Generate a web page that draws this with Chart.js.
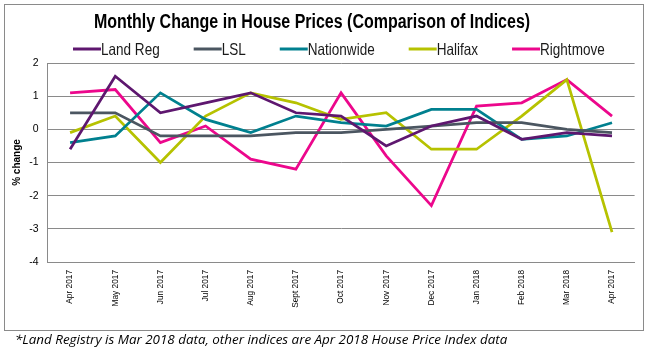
<!DOCTYPE html>
<html>
<head>
<meta charset="utf-8">
<title>Monthly Change in House Prices</title>
<script src="https://cdn.jsdelivr.net/npm/chart.js@4.4.1/dist/chart.umd.min.js"></script>
<style>
  html, body { margin: 0; padding: 0; background: #fff; }
  body { width: 650px; height: 352px; position: relative; overflow: hidden; }
  #chart { position: absolute; left: 0; top: 0; }
  #box { position: absolute; left: 4px; top: 4px; width: 640px; height: 327px;
         box-sizing: border-box; border: 1px solid #8a8a8a; pointer-events: none; }
  #note { position: absolute; left: 15px; top: 331px; font: italic 13.4px "Open Sans", sans-serif;
          color: #000; white-space: nowrap; line-height: 16px; }
</style>
</head>
<body>
<canvas id="chart" width="650" height="352"></canvas>
<div id="box"></div>
<div id="note">*Land Registry is Mar 2018 data, other indices are Apr 2018 House Price Index data</div>
<script>
/* Monthly % change, five UK house price indices */
var MONTHS = ['Apr 2017', 'May 2017', 'Jun 2017', 'Jul 2017', 'Aug 2017', 'Sept 2017', 'Oct 2017',
  'Nov 2017', 'Dec 2017', 'Jan 2018', 'Feb 2018', 'Mar 2018', 'Apr 2017'];
var LAND_REG   = [-0.6, 1.6, 0.5, 0.8, 1.1, 0.5, 0.4, -0.5, 0.1, 0.4, -0.3, -0.1, -0.2];
var LSL        = [0.5, 0.5, -0.2, -0.2, -0.2, -0.1, -0.1, 0.0, 0.1, 0.2, 0.2, 0.0, -0.1];
var NATIONWIDE = [-0.4, -0.2, 1.1, 0.3, -0.1, 0.4, 0.2, 0.1, 0.6, 0.6, -0.3, -0.2, 0.2];
var HALIFAX    = [-0.1, 0.4, -1.0, 0.4, 1.1, 0.8, 0.3, 0.5, -0.6, -0.6, 0.4, 1.5, -3.1];
var RIGHTMOVE  = [1.1, 1.2, -0.4, 0.1, -0.9, -1.2, 1.1, -0.8, -2.3, 0.7, 0.8, 1.5, 0.4];
var Y_MIN = -4, Y_MAX = 2;
var TITLE = 'Monthly Change in House Prices (Comparison of Indices)';

var SANS = '"Liberation Sans", Arial, sans-serif';
var SQUEEZE = 0.82; // no narrow face installed: squeeze title/legend text horizontally instead

function series(label, data, color) {
  return { label: label, data: data, borderColor: color, backgroundColor: color,
    borderWidth: 2.75, pointRadius: 0, pointHoverRadius: 0, tension: 0, fill: false };
}

function narrowText(ctx, text, x, y) {
  ctx.save();
  ctx.translate(x, y);
  ctx.scale(SQUEEZE, 1);
  ctx.fillText(text, 0, 0);
  ctx.restore();
  return ctx.measureText(text).width * SQUEEZE;
}

/* title + legend are placed where the original sits (off-centre), so draw them here */
var header = {
  id: 'header',
  afterDraw: function (chart) {
    var ctx = chart.ctx;
    ctx.save();
    ctx.fillStyle = '#000';
    ctx.textBaseline = 'middle';
    ctx.textAlign = 'center';
    ctx.font = 'bold 19.5px ' + SANS;
    narrowText(ctx, TITLE, 312, 23);
    ctx.textAlign = 'left';
    ctx.font = '16.5px ' + SANS;
    var x = 73, y = 49;
    chart.data.datasets.forEach(function (ds) {
      ctx.strokeStyle = ds.borderColor;
      ctx.lineWidth = 3;
      ctx.beginPath(); ctx.moveTo(x, y); ctx.lineTo(x + 28, y); ctx.stroke();
      ctx.fillStyle = '#1a1a1a';
      var w = narrowText(ctx, ds.label, x + 28, y + 1);
      x += 28 + w + 34;
    });
    ctx.restore();
  }
};

new Chart(document.getElementById('chart'), {
  type: 'line',
  data: {
    labels: MONTHS,
    datasets: [
      series('Land Reg', LAND_REG, '#5e176f'),
      series('LSL', LSL, '#4b5661'),
      series('Nationwide', NATIONWIDE, '#00808f'),
      series('Halifax', HALIFAX, '#b6c200'),
      series('Rightmove', RIGHTMOVE, '#ec078c')
    ]
  },
  options: {
    responsive: false, animation: false, devicePixelRatio: 1,
    layout: { padding: { left: 0, right: 15.4, top: 63, bottom: 0 } },
    plugins: { legend: { display: false }, title: { display: false }, tooltip: { enabled: false } },
    scales: {
      x: {
        offset: true,
        grid: { display: false, drawTicks: false },
        border: { display: true, color: '#8a8a8a', width: 1 },
        ticks: { minRotation: 90, maxRotation: 90, autoSkip: false, padding: 8, color: '#000',
          font: { family: SANS, size: 8.3 } },
        afterFit: function (s) { s.height = 90; }
      },
      y: {
        min: Y_MIN, max: Y_MAX,
        grid: { color: '#8a8a8a', lineWidth: 1, drawTicks: false },
        border: { display: true, color: '#8a8a8a', width: 1 },
        ticks: { stepSize: 1, padding: 9, color: '#000', font: { family: SANS, size: 10.5 } },
        title: { display: true, text: '% change', color: '#000', padding: { top: 11, bottom: 0 },
          font: { family: SANS, size: 10, weight: 'bold' } },
        afterFit: function (s) { s.width = 47.5; }
      }
    }
  },
  plugins: [header]
});
</script>
</body>
</html>
